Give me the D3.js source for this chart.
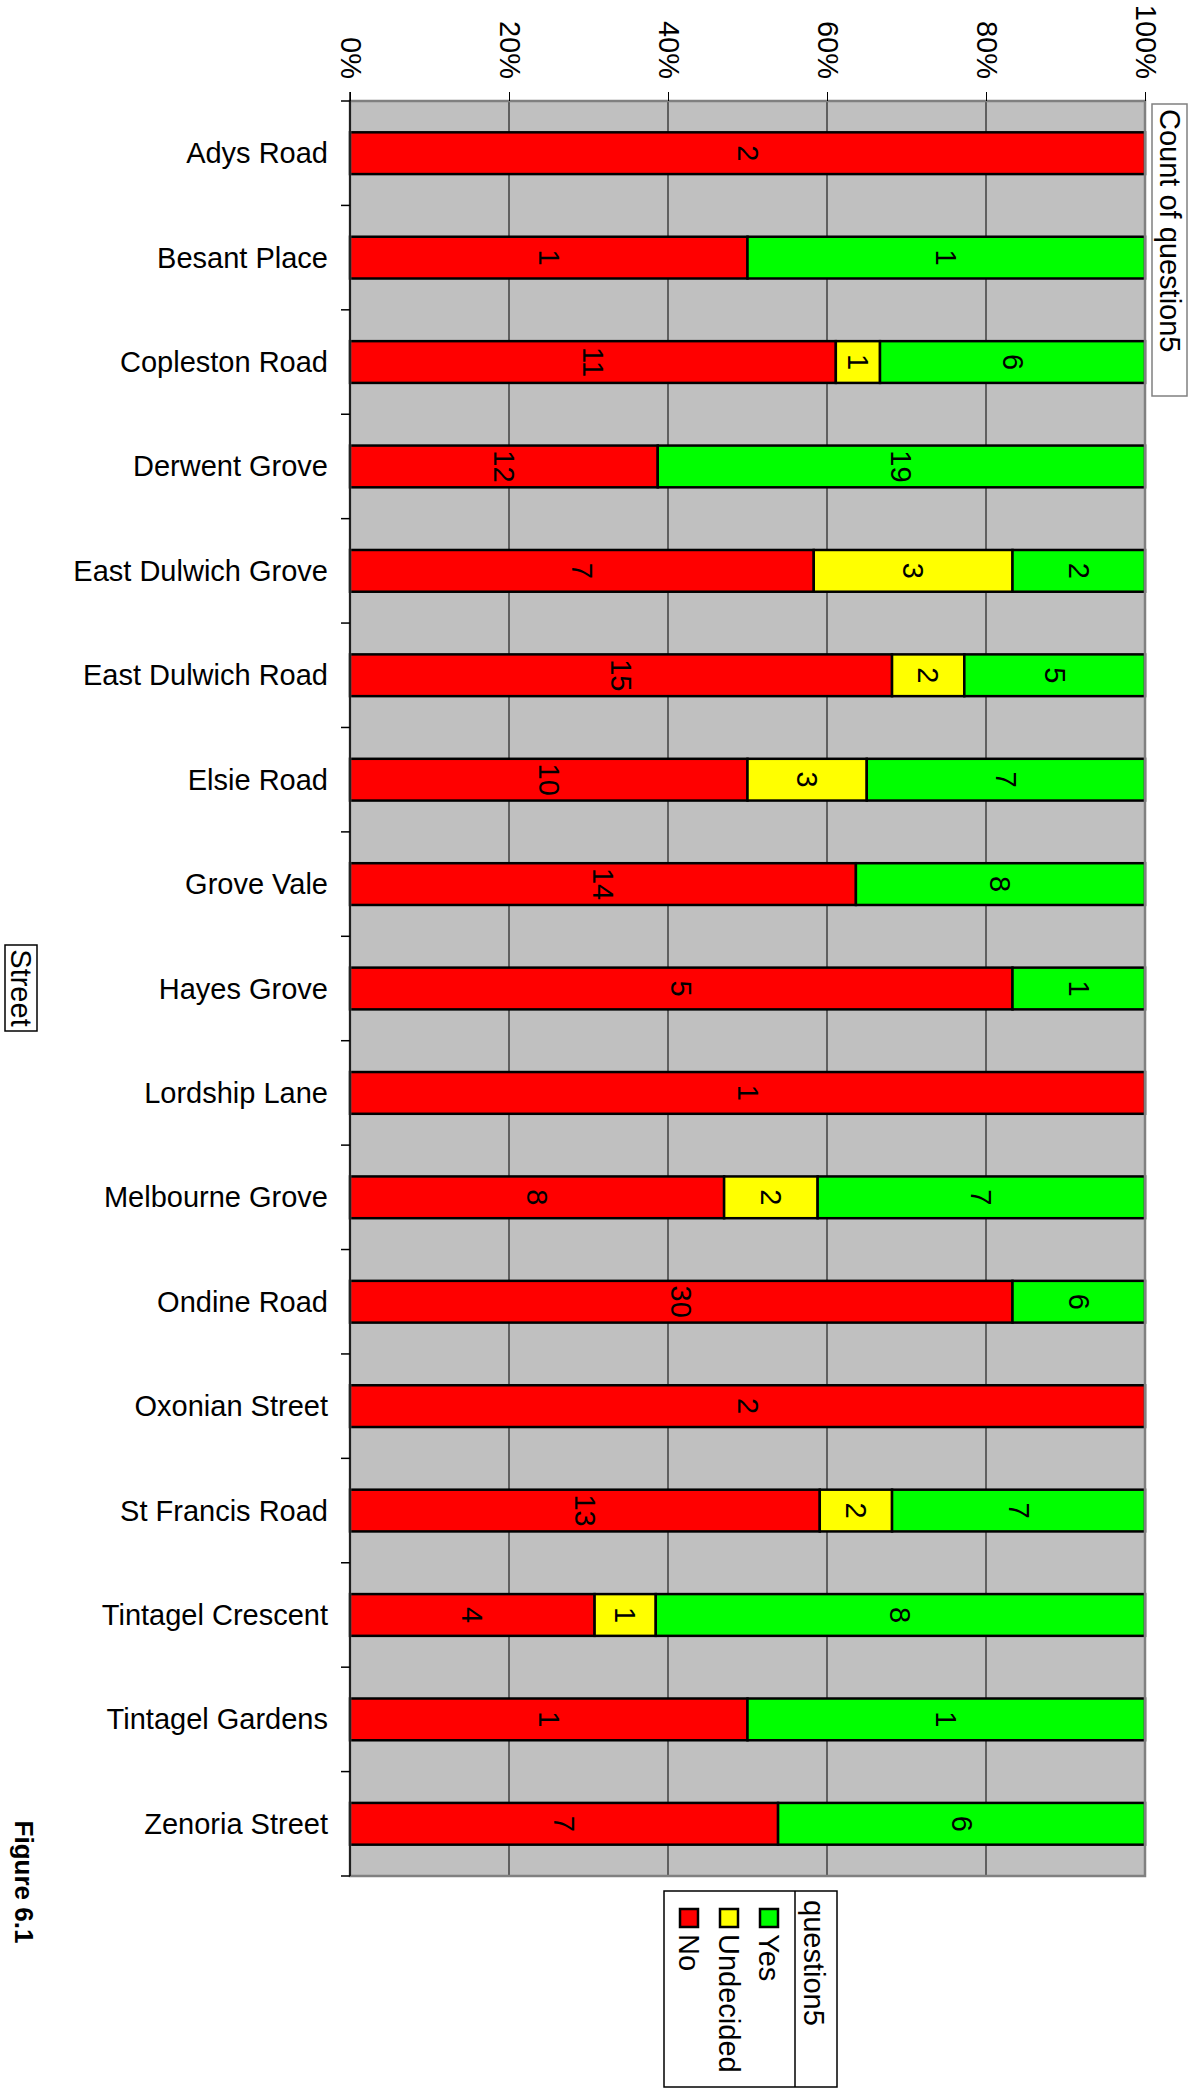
<!DOCTYPE html>
<html>
<head>
<meta charset="utf-8">
<script src="https://cdn.jsdelivr.net/npm/d3@7"></script>
<style>
  body { margin: 0; background: #fff; }
  text { font-family: "Liberation Sans", Arial, sans-serif; fill: #000; }
</style>
</head>
<body>
<div id="chart"></div>
<script>
var w = 1200;
var h = 2090;

var streets = ["Adys Road", "Besant Place", "Copleston Road", "Derwent Grove",
  "East Dulwich Grove", "East Dulwich Road", "Elsie Road", "Grove Vale",
  "Hayes Grove", "Lordship Lane", "Melbourne Grove", "Ondine Road",
  "Oxonian Street", "St Francis Road", "Tintagel Crescent", "Tintagel Gardens",
  "Zenoria Street"];
var noValues        = [2, 1, 11, 12, 7, 15, 10, 14, 5, 1, 8, 30, 2, 13, 4, 1, 7];
var undecidedValues = [0, 0, 1, 0, 3, 2, 3, 0, 0, 0, 2, 0, 0, 2, 1, 0, 0];
var yesValues       = [0, 1, 6, 19, 2, 5, 7, 8, 1, 0, 7, 6, 0, 7, 8, 1, 6];
var seriesNames = ["No", "Undecided", "Yes"];
var seriesColors = ["#ff0000", "#ffff00", "#00ff00"];
var tickValues = [0, 0.2, 0.4, 0.6, 0.8, 1];

var plotLeft = 350, plotRight = 1145, plotTop = 101, plotBottom = 1876;
var fs = 29;

var svg = d3.select("#chart")
            .append("svg")
            .attr("width", w)
            .attr("height", h);

var x = d3.scaleLinear().domain([0, 1]).range([plotLeft, plotRight]);
var y = d3.scaleBand().domain(streets).range([plotTop, plotBottom])
          .paddingInner(0.6).paddingOuter(0.3);
var color = d3.scaleOrdinal().domain(seriesNames).range(seriesColors);

// build rows for the stack
var rows = streets.map(function(s, i) {
    var tot = noValues[i] + undecidedValues[i] + yesValues[i];
    return { street: s, No: noValues[i], Undecided: undecidedValues[i], Yes: yesValues[i], total: tot };
});
var stack = d3.stack().keys(seriesNames)
              .value(function(d, k) { return d[k] / d.total; });
var layers = stack(rows);

// plot background
svg.append("rect")
   .attr("x", plotLeft).attr("y", plotTop)
   .attr("width", plotRight - plotLeft).attr("height", plotBottom - plotTop)
   .attr("fill", "#c0c0c0");

// gridlines
svg.selectAll("line.grid")
   .data(tickValues.slice(1, -1))
   .enter().append("line")
   .attr("class", "grid")
   .attr("x1", function(d) { return x(d); })
   .attr("x2", function(d) { return x(d); })
   .attr("y1", plotTop).attr("y2", plotBottom)
   .attr("stroke", "#000").attr("stroke-width", 1);

// bars
var groups = svg.selectAll("g.layer")
   .data(layers)
   .enter().append("g")
   .attr("class", "layer")
   .attr("fill", function(d) { return color(d.key); });

groups.selectAll("rect")
   .data(function(d) { return d.filter(function(p) { return p[1] - p[0] > 0; }); })
   .enter().append("rect")
   .attr("x", function(d) { return x(d[0]); })
   .attr("y", function(d) { return y(d.data.street); })
   .attr("width", function(d) { return x(d[1]) - x(d[0]); })
   .attr("height", y.bandwidth())
   .attr("stroke", "#000")
   .attr("stroke-width", 2.5);

// data labels
groups.selectAll("text")
   .data(function(d) {
       var key = d.key;
       return d.filter(function(p) { return p[1] - p[0] > 0; })
               .map(function(p) { p.value = p.data[key]; return p; });
   })
   .enter().append("text")
   .attr("transform", function(d) {
       return "translate(" + x((d[0] + d[1]) / 2) + "," + (y(d.data.street) + y.bandwidth() / 2) + ") rotate(90)";
   })
   .attr("text-anchor", "middle")
   .attr("dominant-baseline", "central")
   .style("font-size", fs + "px")
   .text(function(d) { return d.value; });

// plot border
svg.append("rect")
   .attr("x", plotLeft).attr("y", plotTop)
   .attr("width", plotRight - plotLeft).attr("height", plotBottom - plotTop)
   .attr("fill", "none")
   .attr("stroke", "#808080").attr("stroke-width", 2.5);

// top axis
var xAxis = d3.axisTop(x).tickValues(tickValues).tickSize(9).tickFormat(d3.format(".0%"));
var gx = svg.append("g").attr("transform", "translate(0," + plotTop + ")").call(xAxis);
gx.select(".domain").remove();
gx.selectAll(".tick line").attr("stroke", "#000");
gx.selectAll(".tick text")
  .attr("transform", "translate(0,-22) rotate(90)")
  .attr("x", 0).attr("y", 0).attr("dy", null)
  .attr("text-anchor", "end")
  .attr("dominant-baseline", "central")
  .style("font-size", fs + "px")
  .style("font-family", '"Liberation Sans", Arial, sans-serif');

// left axis line, ticks between categories and labels
svg.append("line")
   .attr("x1", plotLeft).attr("x2", plotLeft)
   .attr("y1", plotTop - 9).attr("y2", plotBottom)
   .attr("stroke", "#000").attr("stroke-width", 1.5);
svg.selectAll("line.ytick")
   .data(d3.range(streets.length + 1))
   .enter().append("line")
   .attr("class", "ytick")
   .attr("x1", plotLeft - 9).attr("x2", plotLeft)
   .attr("y1", function(i) { return plotTop + i * y.step(); })
   .attr("y2", function(i) { return plotTop + i * y.step(); })
   .attr("stroke", "#000").attr("stroke-width", 1.5);
svg.selectAll("text.street")
   .data(streets)
   .enter().append("text")
   .attr("class", "street")
   .attr("x", plotLeft - 22)
   .attr("y", function(d) { return y(d) + y.bandwidth() / 2; })
   .attr("text-anchor", "end")
   .attr("dominant-baseline", "central")
   .style("font-size", fs + "px")
   .text(function(d) { return d; });

// "Count of question5" box
var cg = svg.append("g").attr("transform", "translate(1152,104)");
cg.append("rect").attr("width", 35).attr("height", 292)
  .attr("fill", "#fff").attr("stroke", "#808080").attr("stroke-width", 1.5);
cg.append("text")
  .attr("transform", "translate(17.5,5) rotate(90)")
  .attr("dominant-baseline", "central")
  .style("font-size", fs + "px")
  .text("Count of question5");

// "Street" box
var sg = svg.append("g").attr("transform", "translate(5,945)");
sg.append("rect").attr("width", 32).attr("height", 86)
  .attr("fill", "#fff").attr("stroke", "#000").attr("stroke-width", 1.5);
sg.append("text")
  .attr("transform", "translate(16,43) rotate(90)")
  .attr("text-anchor", "middle")
  .attr("dominant-baseline", "central")
  .style("font-size", fs + "px")
  .text("Street");

// figure caption
svg.append("text")
   .attr("transform", "translate(24,1882) rotate(90)")
   .attr("text-anchor", "middle")
   .attr("dominant-baseline", "central")
   .style("font-size", "26px")
   .style("font-weight", "bold")
   .text("Figure 6.1");

// legend
var lg = svg.append("g").attr("transform", "translate(664,1891)");
lg.append("rect").attr("width", 173).attr("height", 196)
  .attr("fill", "#fff").attr("stroke", "#000").attr("stroke-width", 1.5);
lg.append("line").attr("x1", 131).attr("x2", 131).attr("y1", 0).attr("y2", 196)
  .attr("stroke", "#000").attr("stroke-width", 1.5);
lg.append("text")
  .attr("transform", "translate(150,9) rotate(90)")
  .attr("dominant-baseline", "central")
  .style("font-size", fs + "px")
  .text("question5");
var legendKeys = seriesNames.slice().reverse();
var li = lg.selectAll("g.item")
  .data(legendKeys)
  .enter().append("g")
  .attr("class", "item")
  .attr("transform", function(d, i) { return "translate(" + (105 - i * 40) + ",0)"; });
li.append("rect")
  .attr("x", -9).attr("y", 18).attr("width", 18).attr("height", 18)
  .attr("fill", function(d) { return color(d); })
  .attr("stroke", "#000").attr("stroke-width", 2.5);
li.append("text")
  .attr("transform", "translate(0,43) rotate(90)")
  .attr("dominant-baseline", "central")
  .style("font-size", fs + "px")
  .text(function(d) { return d; });
</script>
</body>
</html>
